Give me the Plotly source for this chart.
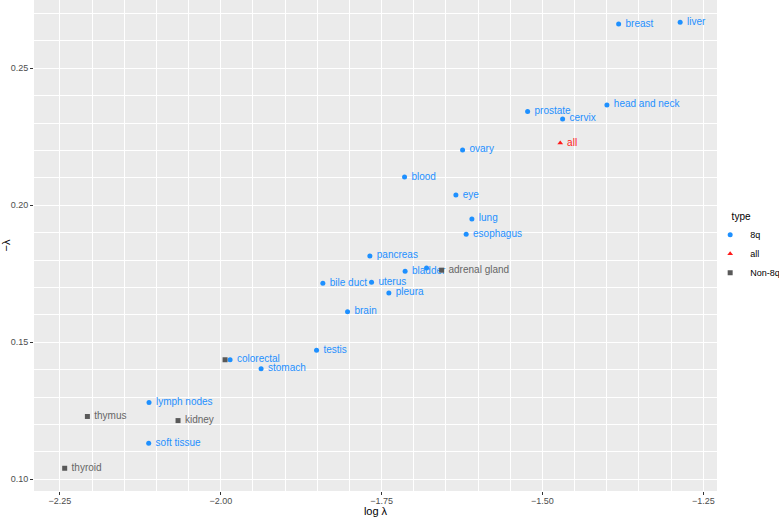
import plotly.graph_objects as go

# ---- data ----
names = ["liver", "breast", "head and neck", "prostate", "cervix", "all", "ovary",
         "blood", "eye", "lung", "esophagus", "pancreas", "bladder", "", "adrenal gland",
         "bile duct", "uterus", "pleura", "brain", "testis", "colorectal", "",
         "stomach", "lymph nodes", "thymus", "kidney", "soft tissue", "thyroid"]
log_lambda = [-1.286, -1.3816, -1.3998, -1.5231, -1.4687, -1.4724, -1.6242,
              -1.7144, -1.6346, -1.6097, -1.6186, -1.7683, -1.7135, -1.6802, -1.6568,
              -1.8414, -1.7657, -1.7388, -1.8030, -1.8512, -1.9856, -1.9934,
              -1.9374, -2.1116, -2.2074, -2.0665, -2.1121, -2.2427]
neg_lambda = [0.2668, 0.2661, 0.2366, 0.2342, 0.2315, 0.2227, 0.2202,
              0.2103, 0.2037, 0.1950, 0.1894, 0.1815, 0.1759, 0.1771, 0.1763,
              0.1715, 0.1719, 0.1680, 0.1611, 0.1471, 0.1436, 0.1436,
              0.1403, 0.1280, 0.1229, 0.1214, 0.1131, 0.1040]
types = ["8q", "8q", "8q", "8q", "8q", "all", "8q",
         "8q", "8q", "8q", "8q", "8q", "8q", "8q", "Non-8q",
         "8q", "8q", "8q", "8q", "8q", "8q", "Non-8q",
         "8q", "8q", "Non-8q", "Non-8q", "8q", "Non-8q"]

type_order = ["8q", "all", "Non-8q"]
colors = {"8q": "#1E90FF", "all": "#FF1A1A", "Non-8q": "#595959"}
text_colors = {"8q": "#1E90FF", "all": "#FF1A1A", "Non-8q": "#666666"}
symbols = {"8q": "circle", "all": "triangle-up", "Non-8q": "square"}

x_ticks = [-2.25, -2.00, -1.75, -1.50, -1.25]
x_ticklabels = ["\u22122.25", "\u22122.00", "\u22121.75", "\u22121.50", "\u22121.25"]
y_ticks = [0.10, 0.15, 0.20, 0.25]
y_ticklabels = ["0.10", "0.15", "0.20", "0.25"]

FONT = "Liberation Sans, Arial, Helvetica, sans-serif"

fig = go.Figure()
for t in type_order:
    idx = [i for i, tt in enumerate(types) if tt == t]
    fig.add_trace(go.Scatter(
        x=[log_lambda[i] for i in idx],
        y=[neg_lambda[i] for i in idx],
        text=["\u00a0" + names[i] if names[i] else "" for i in idx],
        mode="markers+text",
        textposition="middle right",
        textfont=dict(family=FONT, size=10, color=text_colors[t]),
        marker=dict(symbol=symbols[t], color=colors[t], size=5, line=dict(width=0)),
        name=t,
        cliponaxis=False,
    ))

axis_common = dict(
    showgrid=True, gridcolor="white", gridwidth=1.1,
    zeroline=False, showline=False,
    ticks="outside", ticklen=3, tickcolor="#333333", tickwidth=1,
    tickfont=dict(family=FONT, size=9, color="#4D4D4D"),
    minor=dict(showgrid=True, gridcolor="white", gridwidth=0.5),
    automargin=False,
)

fig.update_layout(
    width=779, height=517,
    margin=dict(l=34, r=62, t=0, b=26, autoexpand=False),
    paper_bgcolor="white",
    plot_bgcolor="#EBEBEB",
    font=dict(family=FONT, color="black"),
    xaxis=dict(
        range=[-2.2904, -1.2287],
        tickvals=x_ticks, ticktext=x_ticklabels,
        ticklabelstandoff=-2,
        title=dict(text="log \u03bb", font=dict(family=FONT, size=11, color="black"), standoff=0),
        **axis_common,
    ),
    yaxis=dict(
        range=[0.0957, 0.2749],
        tickvals=y_ticks, ticktext=y_ticklabels,
        title=dict(text="\u2212\u03bb", font=dict(family=FONT, size=11, color="black"), standoff=6),
        **axis_common,
    ),
    legend=dict(
        title=dict(text="\u00a0" * 7 + "type", font=dict(family=FONT, size=10, color="black")),
        font=dict(family=FONT, size=9, color="black"),
        xref="paper", yref="paper",
        x=0.99, y=0.578, xanchor="left", yanchor="top",
        bgcolor="rgba(255,255,255,0)", tracegroupgap=0,
    ),
    showlegend=True,
)

fig.write_html("out.html", config={"displayModeBar": False},
               post_script="document.body.style.margin='0';")
